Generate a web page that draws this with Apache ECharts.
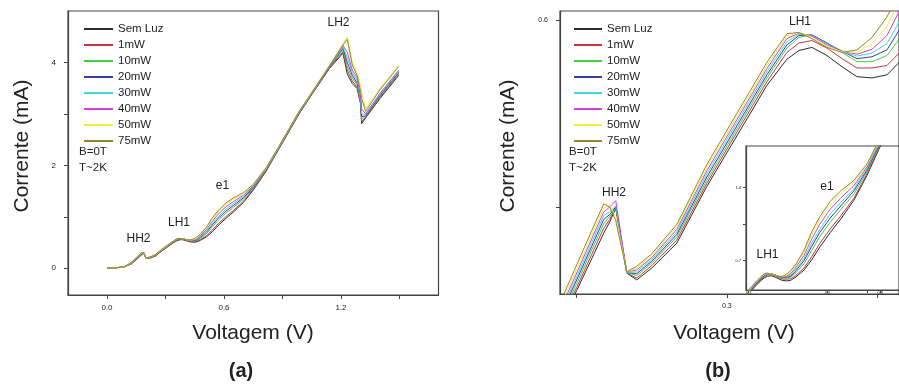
<!DOCTYPE html>
<html>
<head>
<meta charset="utf-8">
<script src="https://cdn.jsdelivr.net/npm/echarts@6/dist/echarts.min.js"></script>
<style>
  html, body { margin: 0; padding: 0; background: #fff; }
  #chart { width: 899px; height: 385px; }
</style>
</head>
<body>
<div id="chart"></div>
<script>
// Bias voltage (V), shared by every illumination curve
const voltage = [0, 0.05, 0.09, 0.125, 0.15, 0.165, 0.177, 0.183, 0.189, 0.2,
  0.21, 0.225, 0.25, 0.28, 0.31, 0.34, 0.36, 0.372, 0.385, 0.4,
  0.415, 0.43, 0.445, 0.46, 0.48, 0.51, 0.54, 0.57, 0.61, 0.65,
  0.7, 0.75, 0.815, 0.88, 0.935, 0.985, 1.04, 1.14, 1.21, 1.232,
  1.258, 1.283, 1.3, 1.306, 1.326, 1.4, 1.496];

// Current (mA) for each illumination power
const semLuz = [0, 0.01, 0.03, 0.085, 0.166, 0.217, 0.258, 0.276, 0.298, 0.194,
  0.183, 0.202, 0.242, 0.333, 0.414, 0.495, 0.537, 0.551, 0.556, 0.543,
  0.525, 0.509, 0.507, 0.512, 0.545, 0.61, 0.71, 0.83, 0.97, 1.10,
  1.28, 1.52, 1.88, 2.31, 2.67, 3.0, 3.32, 3.88, 4.18, 3.78,
  3.59, 3.49, 3.20, 2.81, 2.92, 3.30, 3.75];
const p1mW = [0, 0.01, 0.03, 0.089, 0.171, 0.224, 0.266, 0.28, 0.300, 0.194,
  0.186, 0.206, 0.247, 0.338, 0.42, 0.501, 0.548, 0.563, 0.567, 0.555,
  0.538, 0.523, 0.523, 0.527, 0.56, 0.63, 0.74, 0.865, 1.005, 1.13,
  1.30, 1.535, 1.89, 2.315, 2.675, 3.005, 3.325, 3.885, 4.21, 3.85,
  3.64, 3.52, 3.22, 2.85, 2.93, 3.32, 3.77];
const p10mW = [0, 0.01, 0.03, 0.093, 0.177, 0.231, 0.273, 0.285, 0.298, 0.195,
  0.19, 0.21, 0.252, 0.343, 0.425, 0.507, 0.555, 0.572, 0.576, 0.563,
  0.548, 0.533, 0.533, 0.543, 0.586, 0.67, 0.80, 0.93, 1.07, 1.19,
  1.34, 1.555, 1.90, 2.325, 2.685, 3.015, 3.335, 3.895, 4.25, 3.92,
  3.70, 3.56, 3.25, 2.90, 2.95, 3.34, 3.79];
const p20mW = [0, 0.01, 0.03, 0.097, 0.183, 0.237, 0.28, 0.288, 0.300, 0.195,
  0.193, 0.213, 0.256, 0.348, 0.43, 0.512, 0.56, 0.575, 0.576, 0.563,
  0.55, 0.538, 0.541, 0.552, 0.604, 0.70, 0.84, 0.97, 1.11, 1.225,
  1.37, 1.57, 1.91, 2.33, 2.69, 3.02, 3.34, 3.90, 4.28, 4.00,
  3.75, 3.60, 3.30, 2.95, 2.96, 3.36, 3.81];
const p30mW = [0, 0.01, 0.03, 0.10, 0.188, 0.243, 0.286, 0.292, 0.302, 0.195,
  0.196, 0.216, 0.26, 0.353, 0.435, 0.517, 0.565, 0.577, 0.575, 0.562,
  0.55, 0.542, 0.547, 0.562, 0.62, 0.72, 0.87, 1.00, 1.15, 1.26,
  1.39, 1.585, 1.92, 2.34, 2.70, 3.03, 3.345, 3.91, 4.30, 4.10,
  3.80, 3.65, 3.30, 3.00, 2.98, 3.38, 3.83];
const p40mW = [0, 0.01, 0.03, 0.105, 0.194, 0.249, 0.292, 0.300, 0.31, 0.196,
  0.199, 0.219, 0.264, 0.358, 0.44, 0.522, 0.57, 0.579, 0.574, 0.56,
  0.55, 0.545, 0.553, 0.575, 0.639, 0.75, 0.91, 1.05, 1.195, 1.30,
  1.42, 1.60, 1.93, 2.35, 2.71, 3.04, 3.35, 3.92, 4.33, 4.20,
  3.85, 3.70, 3.35, 3.10, 3.00, 3.40, 3.85];
const p50mW = [0, 0.01, 0.03, 0.11, 0.2, 0.255, 0.298, 0.302, 0.285, 0.196,
  0.202, 0.222, 0.268, 0.363, 0.445, 0.527, 0.574, 0.580, 0.572, 0.558,
  0.549, 0.548, 0.562, 0.59, 0.657, 0.78, 0.95, 1.09, 1.24, 1.345,
  1.45, 1.62, 1.94, 2.355, 2.715, 3.045, 3.355, 3.94, 4.36, 4.50,
  4.00, 3.80, 3.55, 3.42, 3.10, 3.50, 3.95];
const p75mW = [0, 0.01, 0.03, 0.116, 0.207, 0.262, 0.305, 0.300, 0.278, 0.196,
  0.205, 0.225, 0.272, 0.368, 0.45, 0.532, 0.578, 0.580, 0.570, 0.556,
  0.548, 0.552, 0.572, 0.605, 0.67, 0.80, 0.98, 1.12, 1.27, 1.37,
  1.47, 1.63, 1.95, 2.36, 2.72, 3.05, 3.36, 3.93, 4.34, 4.45,
  3.95, 3.74, 3.45, 3.30, 3.05, 3.47, 3.92];

const seriesNames = ['Sem Luz', '1mW', '10mW', '20mW', '30mW', '40mW', '50mW', '75mW'];
const currents = [semLuz, p1mW, p10mW, p20mW, p30mW, p40mW, p50mW, p75mW];
const colors = ['#2b2b2b', '#cc3340', '#3fcf3f', '#3a3aa8', '#3fd8e0', '#d63fd6', '#f2ee3f', '#8a8a2a'];

// Tick positions for each axis
const ticksAX = [0, 0.3, 0.6, 0.9, 1.2, 1.5], labelsAX = [0, 0.6, 1.2];
const ticksAY = [0, 1, 2, 3, 4], labelsAY = [0, 2, 4];
const ticksBX = [0.15, 0.3, 0.45], labelsBX = [0.3];
const ticksBY = [0.3, 0.6], labelsBY = [0.6];
const ticksIX = [0.3, 0.6, 0.75, 0.8], labelsIX = [0.3, 0.6, 0.8];
const ticksIY = [0.7, 1.05, 1.4], labelsIY = [0.7, 1.4];

const FONT = '"Liberation Sans", Arial, Helvetica, sans-serif';
const INK = '#222';
const FRAME = '#444';

function axis(gridIndex, min, max, ticks, labels, opts) {
  opts = opts || {};
  return {
    gridIndex, type: 'value', min, max,
    z: opts.z || 0,
    axisLine: { show: true, onZero: false, lineStyle: { color: FRAME, width: 1.2 } },
    axisTick: { show: true, inside: false, length: opts.tickLen || 4, customValues: ticks,
      lineStyle: { color: FRAME, width: 1 } },
    axisLabel: { show: true, customValues: labels, fontSize: opts.fontSize || 8, margin: opts.margin || 9,
      color: INK, fontFamily: FONT, formatter: opts.formatter },
    splitLine: { show: false }
  };
}

const pairs = currents.map(arr => voltage.map((v, i) => [v, arr[i]]));

const series = [];
[0, 1, 2].forEach(g => {
  pairs.forEach((data, k) => {
    series.push({
      type: 'line', name: seriesNames[k], xAxisIndex: g, yAxisIndex: g,
      data, showSymbol: false, symbol: 'none', smooth: false,
      clip: true, silent: true, animation: false,
      z: g === 2 ? 11 : 2,
      lineStyle: { width: 1, color: colors[k] },
      itemStyle: { color: colors[k] }
    });
  });
});

function txt(text, x, y, size, extra) {
  return Object.assign({
    type: 'text', x, y, z: 20,
    style: { text, fill: INK, font: size + 'px ' + FONT, align: 'center', verticalAlign: 'middle' }
  }, extra || {});
}
function leftTxt(text, x, y) {
  return txt(text, x, y, 11.5, { style: { text, fill: INK, font: '11.5px ' + FONT, align: 'left', verticalAlign: 'middle' } });
}
function boldTxt(text, x, y) {
  return txt(text, x, y, 20, { style: { text, fill: INK, font: 'bold 20px ' + FONT, align: 'center', verticalAlign: 'middle' } });
}

const legendBase = {
  orient: 'vertical', top: 18, itemWidth: 29, itemHeight: 2, itemGap: 4, icon: 'rect',
  selectedMode: false, data: seriesNames, z: 6,
  textStyle: { fontSize: 11.5, lineHeight: 12, color: INK, fontFamily: FONT }
};

const chart = echarts.init(document.getElementById('chart'), null, { renderer: 'canvas' });
chart.setOption({
  animation: false,
  backgroundColor: '#fff',
  grid: [
    { left: 68, top: 11, width: 370.5, height: 284, show: true, borderColor: FRAME, borderWidth: 1.2 },
    { left: 560, top: 11, width: 359, height: 283, show: true, borderColor: FRAME, borderWidth: 1.2 },
    { left: 746, top: 146, width: 170, height: 144, show: true, borderColor: FRAME, borderWidth: 1.2,
      backgroundColor: '#fff', z: 10 }
  ],
  xAxis: [
    axis(0, -0.2, 1.7, ticksAX, labelsAX, { formatter: v => v.toFixed(1) }),
    axis(1, 0.1333, 0.472, ticksBX, labelsBX, { fontSize: 7, formatter: v => v.toFixed(1) }),
    axis(2, 0.2897, 0.8713, ticksIX, labelsIX, { fontSize: 4, margin: 1, tickLen: 3, z: 11,
      formatter: v => v.toFixed(1) })
  ],
  yAxis: [
    axis(0, -0.52, 5.0, ticksAY, labelsAY, { margin: 12, formatter: v => String(v) }),
    axis(1, 0.1604, 0.6144, ticksBY, labelsBY, { fontSize: 7, margin: 12, formatter: v => v.toFixed(1) }),
    axis(2, 0.419, 1.80, ticksIY, labelsIY, { fontSize: 4, margin: 5, tickLen: 3, z: 11,
      formatter: v => v.toFixed(1) })
  ],
  legend: [
    Object.assign({}, legendBase, { left: 79 }),
    Object.assign({}, legendBase, { left: 569, itemWidth: 28 })
  ],
  graphic: [
    // panel (a)
    txt('Corrente (mA)', 22, 146, 21, { rotation: Math.PI / 2 }),
    txt('Voltagem (V)', 253, 333, 21),
    boldTxt('(a)', 241, 371),
    leftTxt('B=0T', 79, 152),
    leftTxt('T~2K', 79, 168),
    txt('HH2', 138.5, 239, 12),
    txt('LH1', 179, 223, 12),
    txt('e1', 222.5, 186, 12),
    txt('LH2', 338.5, 23, 12),
    // panel (b)
    txt('Corrente (mA)', 508, 146, 21, { rotation: Math.PI / 2 }),
    txt('Voltagem (V)', 734, 333, 21),
    boldTxt('(b)', 718, 371),
    leftTxt('B=0T', 569, 152),
    leftTxt('T~2K', 569, 168),
    txt('LH1', 800, 22, 12),
    txt('HH2', 614, 193, 12),
    // inset
    txt('LH1', 767.5, 255, 12),
    txt('e1', 827, 187, 12)
  ],
  series
});
</script>
</body>
</html>
